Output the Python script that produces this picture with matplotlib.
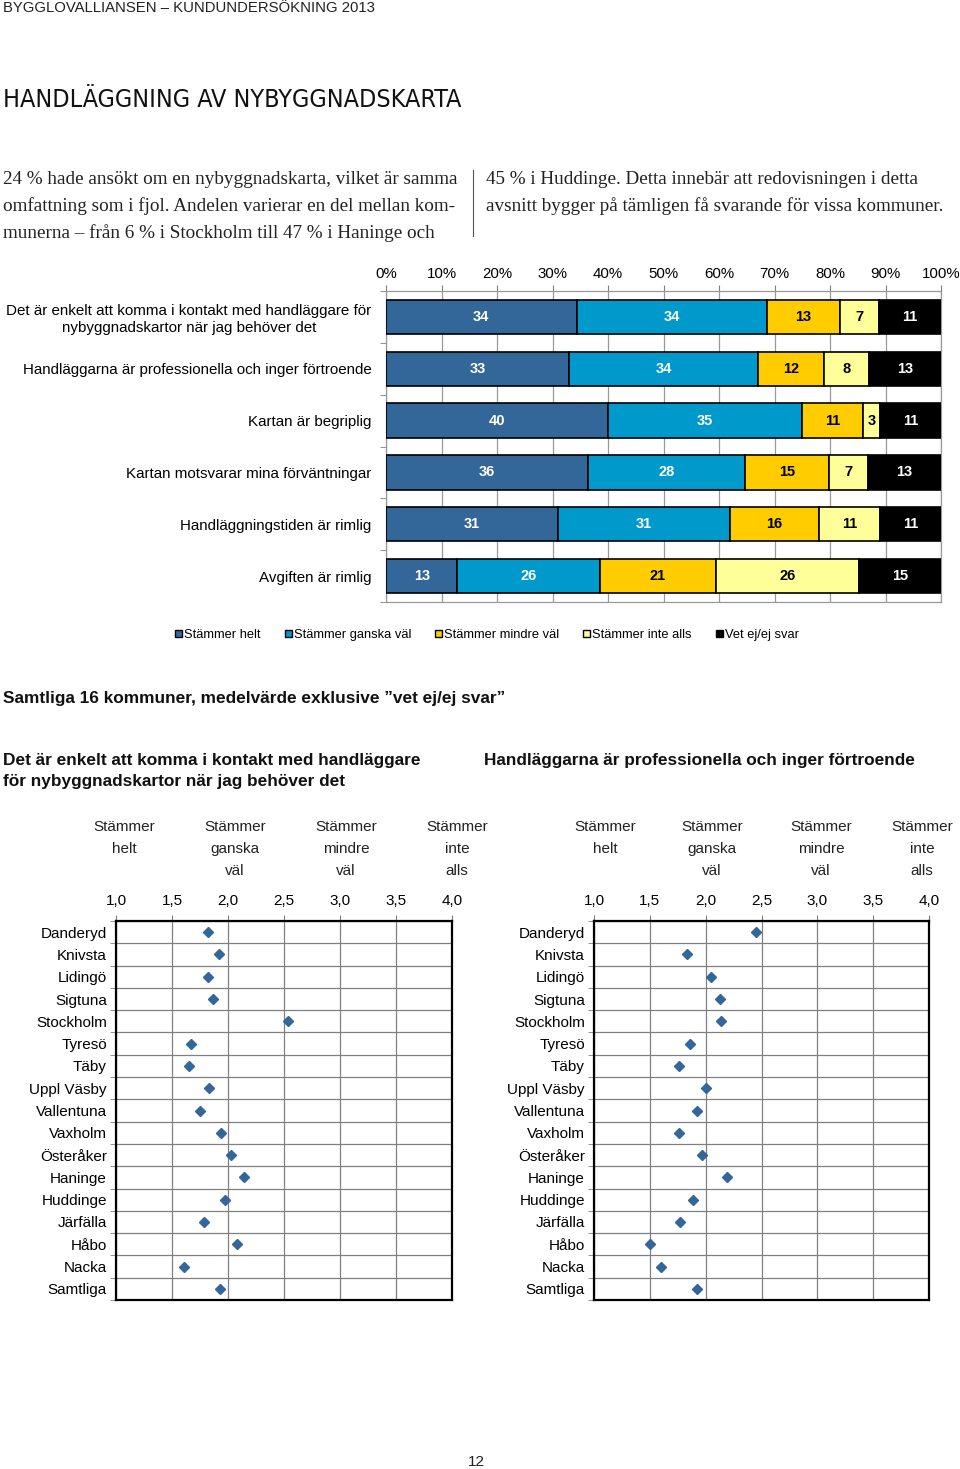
import numpy as np
import matplotlib.pyplot as plt
from matplotlib import font_manager as fm
from matplotlib.ticker import FuncFormatter

plt.rcParams['font.family'] = ['Liberation Sans', 'DejaVu Sans']

# stacked bar data (percent)
statements = ["Det är enkelt att komma i kontakt med handläggare för\nnybyggnadskartor när jag behöver det",
              "Handläggarna är professionella och inger förtroende",
              "Kartan är begriplig",
              "Kartan motsvarar mina förväntningar",
              "Handläggningstiden är rimlig",
              "Avgiften är rimlig"]
helt = [34, 33, 40, 36, 31, 13]
ganska = [34, 34, 35, 28, 31, 26]
mindre = [13, 12, 11, 15, 16, 21]
inte = [7, 8, 3, 7, 11, 26]
vet_ej = [11, 13, 11, 13, 11, 15]
series_names = ["Stämmer helt", "Stämmer ganska väl", "Stämmer mindre väl", "Stämmer inte alls", "Vet ej/ej svar"]
series_colors = ["#336699", "#0099CC", "#FFCC00", "#FFFF99", "#000000"]
text_colors = ["white", "white", "black", "black", "white"]

# mean values per municipality
kommuner = ["Danderyd", "Knivsta", "Lidingö", "Sigtuna", "Stockholm", "Tyresö", "Täby", "Uppl Väsby",
            "Vallentuna", "Vaxholm", "Österåker", "Haninge", "Huddinge", "Järfälla", "Håbo", "Nacka", "Samtliga"]
kontakt = [1.82, 1.92, 1.82, 1.87, 2.54, 1.67, 1.65, 1.83, 1.75, 1.94, 2.03, 2.14, 1.97, 1.79, 2.08, 1.61, 1.93]
professionella = [2.45, 1.83, 2.05, 2.13, 2.14, 1.86, 1.76, 2.00, 1.92, 1.76, 1.97, 2.19, 1.89, 1.77, 1.50, 1.60, 1.92]
scale_heads = ["Stämmer\nhelt", "Stämmer\nganska\nväl", "Stämmer\nmindre\nväl", "Stämmer\ninte\nalls"]

W, H = 960, 1469
fig = plt.figure(figsize=(W / 100, H / 100), dpi=100)


def px(x, y):
    return x / W, 1 - y / H


def axes_px(left, top, right, bottom):
    return fig.add_axes([left / W, 1 - bottom / H, (right - left) / W, (bottom - top) / H])


# pick a narrow face for the page title if one is installed
fonts = fm.fontManager.ttflist
title_kw = {'family': ['Liberation Sans']}
if any(f.name == 'Liberation Sans Narrow' for f in fonts):
    title_kw = {'family': ['Liberation Sans Narrow']}
elif any(f.name == 'DejaVu Sans' and 'condensed' in str(f.stretch) for f in fonts):
    title_kw = {'family': ['DejaVu Sans'], 'fontstretch': 'condensed'}

# header texts
fig.text(*px(3, 8), "BYGGLOVALLIANSEN – KUNDUNDERSÖKNING 2013", fontsize=10.7, va='center', ha='left', color='#222222')
title = fig.text(*px(3, 100), "HANDLÄGGNING AV NYBYGGNADSKARTA", fontsize=21, va='center', ha='left',
                 color='#111111', **title_kw)
renderer = fig.canvas.get_renderer()
tw = title.get_window_extent(renderer).width
title.set_fontsize(max(18, min(21, 21 * 440 / tw)))

left_lines = ["24 % hade ansökt om en nybyggnadskarta, vilket är samma",
              "omfattning som i fjol. Andelen varierar en del mellan kom-",
              "munerna – från 6 % i Stockholm till 47 % i Haninge och"]
right_lines = ["45 % i Huddinge. Detta innebär att redovisningen i detta",
               "avsnitt bygger på tämligen få svarande för vissa kommuner."]
for i, s in enumerate(left_lines):
    fig.text(*px(3, 180 + i * 26.5), s, fontsize=13.8, family=['Liberation Serif'], va='center', ha='left',
             color='#222222')
for i, s in enumerate(right_lines):
    fig.text(*px(486, 180 + i * 26.5), s, fontsize=13.8, family=['Liberation Serif'], va='center', ha='left',
             color='#222222')
fig.add_artist(plt.Line2D([473 / W, 473 / W], [1 - 170 / H, 1 - 236 / H], color='#555555', lw=0.8))

# stacked bar chart
ax = axes_px(386, 291, 941, 602)
data = np.array([helt, ganska, mindre, inte, vet_ej], dtype=float)
totals = data.sum(axis=0)
shares = data / totals * 100
y = np.arange(len(statements))
left = np.zeros(len(statements))
for k in range(len(series_names)):
    bars = ax.barh(y, shares[k], left=left, height=0.66, color=series_colors[k], edgecolor='black',
                   linewidth=1.2, label=series_names[k], zorder=3)
    for j, b in enumerate(bars):
        ax.text(left[j] + shares[k][j] / 2, y[j], f"{int(data[k][j])}", ha='center', va='center',
                fontsize=10.5, fontweight='bold', color=text_colors[k], zorder=4)
    left += shares[k]
ax.set_xlim(0, 100)
ax.set_ylim(len(statements) - 0.5, -0.5)
ax.set_xticks(np.arange(0, 101, 10))
ax.xaxis.set_major_formatter(FuncFormatter(lambda v, p: f"{int(v)}%"))
ax.xaxis.tick_top()
ax.tick_params(axis='x', length=4, color='#808080', pad=3, labelsize=10.8)
ax.set_yticks(y)
ax.set_yticklabels(statements)
for t in ax.get_yticklabels():
    t.set_multialignment('center')
ax.set_yticks(np.arange(-0.5, len(statements), 1), minor=True)
ax.tick_params(axis='y', which='major', length=0, pad=10.5, labelsize=10.9)
ax.tick_params(axis='y', which='minor', length=4, color='#808080')
ax.grid(axis='x', color='#999999', lw=0.9, zorder=0)
for sp in ax.spines.values():
    sp.set_color('#999999')
    sp.set_linewidth(0.9)

leg = ax.legend(loc='center', bbox_to_anchor=(487 / W, 1 - 635 / H), bbox_transform=fig.transFigure,
                ncol=5, frameon=False, fontsize=9.3, handlelength=0.55, handleheight=0.55,
                handletextpad=0.15, columnspacing=1.85, borderaxespad=0)
for h in leg.legend_handles:
    h.set_linewidth(1.0)

# section titles
fig.text(*px(3, 698), "Samtliga 16 kommuner, medelvärde exklusive ”vet ej/ej svar”", fontsize=12.4,
         fontweight='bold', va='center', ha='left', color='#111111')
fig.text(*px(3, 771), "Det är enkelt att komma i kontakt med handläggare\nför nybyggnadskartor när jag behöver det",
         fontsize=12.4, fontweight='bold', va='center', ha='left', color='#111111', linespacing=1.45)
fig.text(*px(484, 761), "Handläggarna är professionella och inger förtroende", fontsize=12.4, fontweight='bold',
         va='center', ha='left', color='#111111')


def dot_chart(ax, values, head_x):
    yy = np.arange(len(kommuner))
    ax.plot(values, yy, linestyle='none', marker='D', markersize=5.5, color='#336699', zorder=3)
    ax.set_xlim(1, 4)
    ax.set_ylim(len(kommuner) - 0.5, -0.5)
    ax.set_xticks(np.arange(1, 4.01, 0.5))
    ax.xaxis.set_major_formatter(FuncFormatter(lambda v, p: f"{v:.1f}".replace('.', ',')))
    ax.xaxis.tick_top()
    ax.tick_params(axis='x', length=4, color='#808080', pad=5.5, labelsize=11)
    ax.set_yticks(yy)
    ax.set_yticklabels(kommuner)
    ax.set_yticks(np.arange(-0.5, len(kommuner), 1), minor=True)
    ax.tick_params(axis='y', which='major', length=0, pad=6.5, labelsize=11)
    ax.tick_params(axis='y', which='minor', length=4, color='#808080')
    ax.grid(axis='x', which='major', color='#808080', lw=0.9, zorder=0)
    ax.grid(axis='y', which='minor', color='#808080', lw=0.9, zorder=0)
    for sp in ax.spines.values():
        sp.set_color('black')
        sp.set_linewidth(1.6)
        sp.set_zorder(4)
    for hx, s in zip(head_x, scale_heads):
        fig.text(*px(hx, 820), s, ha='center', va='top', fontsize=11, linespacing=1.74,
                 multialignment='center', color='#222222')


ax1 = axes_px(116, 921, 452, 1300)
dot_chart(ax1, kontakt, [124, 235, 346, 457])
ax2 = axes_px(594, 921, 929, 1300)
dot_chart(ax2, professionella, [605, 712, 821, 922])

fig.text(*px(476, 1462), "12", ha='center', va='center', fontsize=11, color='#222222')

fig.savefig("out.png", dpi=100)
